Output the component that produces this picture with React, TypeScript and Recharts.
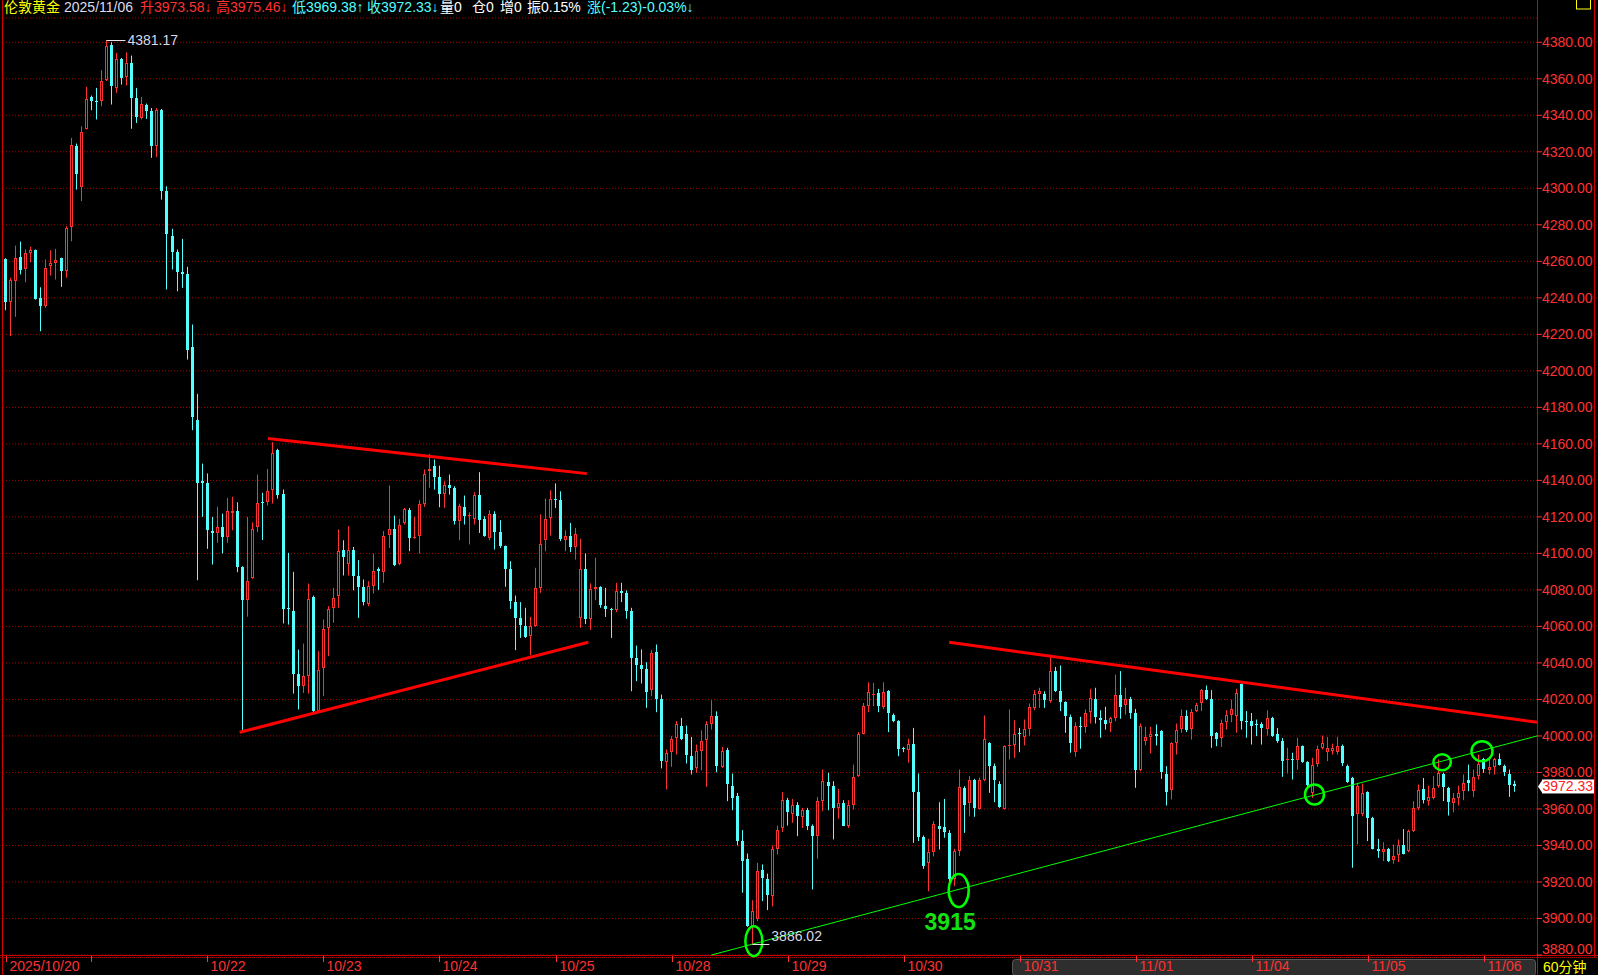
import React from 'react';
import {
  ComposedChart,
  Bar,
  XAxis,
  YAxis,
  CartesianGrid,
  ReferenceLine,
  ReferenceDot,
} from 'recharts';

// 60-minute London gold candles
const opens = [
  4261.4, 4237.6, 4249.1, 4262.4, 4255.9, 4264.7, 4266.1, 4239.8, 4235.4, 4257.4,
  4259.2, 4261.7, 4254.6, 4278.9, 4323.4, 4300.8, 4332.6, 4349.9, 4347.7, 4347.7,
  4359.6, 4378.7, 4355, 4370.9, 4361, 4368.7, 4349.5, 4338.6, 4345.9, 4342.2,
  4323.1, 4343.1, 4298.4, 4273.8, 4265, 4254, 4252.8, 4213.1, 4173.3, 4139.4,
  4138.3, 4112.5, 4111.3, 4114.5, 4109, 4122.2, 4123.5, 4092.5, 4074.4, 4086.6,
  4114.6, 4128, 4128, 4134.6, 4156.5, 4132.8, 4070, 4068.7, 4034.2, 4027.6,
  4032.7, 4076.2, 4013.6, 4037.3, 4059.2, 4070.2, 4076.6, 4102.1, 4094, 4102.1,
  4087.5, 4081.5, 4072.4, 4082, 4091.2, 4089.7, 4110.3, 4113.4, 4094.4, 4116.4,
  4124, 4108.5, 4109.4, 4126.8, 4145, 4147.8, 4141.7, 4132.8, 4137.2, 4135.9,
  4117.6, 4125.5, 4120.7, 4118.6, 4132.2, 4118.6, 4108.5, 4121.8, 4111.6, 4104,
  4091.7, 4073.3, 4064.7, 4060.5, 4054.7, 4060.5, 4081.1, 4107.2, 4119.5, 4129.9,
  4129.1, 4107.2, 4109.8, 4103.6, 4064.7, 4091.2, 4064.2, 4080.6, 4081.5, 4071.1,
  4069.3, 4068.9, 4079.3, 4078.4, 4068.4, 4042.8, 4039.1, 4036.8, 4025.1, 4045.9,
  4020.3, 3985.6, 3991.1, 3999, 4005.7, 4000.8, 3988.9, 3982.5, 3991.6, 3997.7,
  4006.3, 4011.2, 3983.1, 3992.2, 3972.8, 3967, 3942.4, 3932.7, 3896.1, 3899.5,
  3926.5, 3921.7, 3912.2, 3938.2, 3949.6, 3964.8, 3957, 3961.9, 3955.7, 3959.3,
  3950.9, 3945.1, 3964.3, 3974.7, 3972.8, 3960.6, 3963, 3950.9, 3961.9, 3978,
  4001.3, 4016.3, 4023, 4023.6, 4015.9, 4024.5, 4011.7, 4008.1, 3993.5, 3992.2,
  3995.8, 3969.2, 3944.7, 3930.5, 3936.4, 3950.9, 3950.2, 3946.9, 3921.4, 3936.9,
  3971.6, 3963.4, 3975.8, 3960.1, 3975.8, 3996.2, 3983.8, 3973.9, 3960.1, 3994.4,
  3995.3, 4001.7, 3999.5, 4003.9, 4015.4, 4023.2, 4023.2, 4019.1, 4035.5, 4024.5,
  4018.5, 4010.5, 3991.1, 4005.3, 4005, 4013, 4020.3, 4009.9, 4008.6, 4007.2,
  4009.9, 4022.7, 4016.7, 4020.3, 4012.3, 3981.3, 3997.1, 3999.5, 4000.8, 4002.6,
  3979.4, 3970.3, 3995.9, 4004, 4010.8, 4003.9, 4013.6, 4017.8, 4025.1, 4020,
  4001.7, 3999, 4007.5, 4011.7, 4010.8, 4028.2, 4008.1, 4008.1, 4006.8, 4006.8,
  4003.9, 4009.9, 4001.3, 3997.1, 3986.6, 3987.1, 3986.7, 3994.4, 3985.6, 3968.8,
  3984.9, 3993.5, 3991.1, 3991.7, 3991.1, 3994.4, 3983.8, 3977, 3957, 3957,
  3969.2, 3955.1, 3938.2, 3936.3, 3938.2, 3932.3, 3935, 3940.2, 3936.9, 3947.8,
  3960.6, 3970.7, 3964.3, 3966.1, 3972.5, 3979.4, 3971.6, 3963.4, 3966.1, 3969.7,
  3975.8, 3969.7, 3978.3, 3987.1, 3981.6, 3983.1, 3987.5, 3983.8, 3978.9, 3973.58,
];

const highs = [
  4261.7, 4251, 4268.6, 4270.8, 4266.5, 4268, 4266.5, 4245.8, 4261, 4266.1,
  4266.8, 4262, 4279.2, 4327.6, 4324.5, 4334, 4355.6, 4350.8, 4355, 4364.7,
  4381.17, 4380, 4374.2, 4371.4, 4374.5, 4372.7, 4355, 4350.1, 4346.4, 4344,
  4344, 4343.5, 4301.1, 4277.8, 4266.5, 4272.3, 4257, 4225.4, 4187.4, 4149.2,
  4143.8, 4120, 4125.5, 4121.8, 4130.4, 4131, 4128, 4093, 4120, 4117,
  4143.2, 4133.2, 4146.3, 4160.9, 4157.3, 4135, 4100.3, 4089.9, 4047.3, 4050.6,
  4083.5, 4076.9, 4046.4, 4063.8, 4071.1, 4081.1, 4113.1, 4107.2, 4114.9, 4103.6,
  4096.3, 4085.7, 4084.8, 4099.9, 4092.4, 4112.2, 4137.2, 4120.7, 4118.9, 4124.9,
  4124.9, 4120, 4129.1, 4146, 4154.5, 4151.4, 4148.1, 4139.5, 4143.2, 4136.8,
  4127.3, 4131.7, 4122.6, 4133.5, 4144.5, 4120.4, 4123.7, 4123.1, 4118.2, 4104.3,
  4095.7, 4076.9, 4073.3, 4070.2, 4065.2, 4092.1, 4121.3, 4130, 4134.6, 4138.3,
  4134, 4112.7, 4116.7, 4114, 4108, 4100, 4083.6, 4097.6, 4082, 4081.1,
  4070.2, 4083.9, 4083.9, 4079.8, 4070.2, 4049.5, 4047.4, 4040.4, 4047, 4050.1,
  4022.7, 3992.6, 3999.9, 4008.1, 4009.9, 4005.7, 3999.5, 3995.3, 4003.1, 4008.1,
  4019.6, 4013.5, 3994, 3993.5, 3979.4, 3968.8, 3948.4, 3935.6, 3910, 3930.5,
  3929.6, 3924.6, 3940, 3950.9, 3969.2, 3966.1, 3965.5, 3963.7, 3960.6, 3960.6,
  3951.5, 3966.6, 3981.6, 3979.8, 3975.2, 3971, 3964.8, 3964.8, 3984.3, 4002.1,
  4018.1, 4029.4, 4029, 4025.8, 4029.4, 4025.1, 4012.3, 4008.6, 3994, 3998.4,
  4004.4, 3979.4, 3945.5, 3943.6, 3953.3, 3963.7, 3965.5, 3948.4, 3938.2, 3981.6,
  3972.5, 3978, 3976.5, 3977.1, 4011.2, 3996.6, 3984.9, 3975.2, 3994.8, 4014.5,
  4008.6, 4004.4, 4009, 4017.8, 4025.1, 4026.4, 4024.5, 4044.6, 4037.8, 4038.6,
  4019, 4011.7, 4007.5, 4010.5, 4014.5, 4025.8, 4026.4, 4014.1, 4016, 4010.5,
  4033.6, 4035.5, 4026.4, 4021.4, 4014.8, 4006.8, 4005, 4005, 4006.3, 4003.2,
  3983.4, 3996.6, 4006.8, 4014.5, 4014.1, 4014.8, 4018.1, 4025.8, 4027.6, 4025.1,
  4002.1, 4009, 4014.1, 4019.9, 4025.8, 4028.7, 4013.6, 4012.6, 4009, 4007.5,
  4014.1, 4010.5, 4004.4, 3998.9, 3993.5, 3990.8, 3999, 3994.8, 3986.2, 3988,
  3994.8, 4000.2, 3999.5, 3995.8, 3999.5, 3995.3, 3984.3, 3977.6, 3974.3, 3973.9,
  3969.7, 3955.7, 3943.6, 3941.8, 3938.7, 3940.5, 3943.3, 3949, 3948.7, 3964.3,
  3973.4, 3977, 3972.8, 3978, 3987.1, 3979.8, 3972.1, 3968.8, 3972.8, 3978.9,
  3984.3, 3981.6, 3989.8, 3988, 3987.5, 3988, 3990.4, 3984.3, 3981.6, 3975.46,
];

const lows = [
  4233.2, 4219, 4229.6, 4252.8, 4248.6, 4259.5, 4239, 4221.7, 4234.5, 4252.2,
  4250, 4246, 4251, 4271, 4299.3, 4293, 4332.2, 4342.8, 4337.7, 4345,
  4358.7, 4345.9, 4352.3, 4356.8, 4356.3, 4332.6, 4335.8, 4337.7, 4338, 4316.7,
  4317.2, 4293.8, 4244.6, 4255.5, 4243.6, 4245.5, 4206.2, 4167.5, 4085.3, 4120,
  4102.5, 4093.9, 4105.8, 4099.9, 4105.8, 4112.7, 4089.7, 4002, 4065.3, 4086,
  4111.6, 4107.3, 4126.2, 4127.3, 4130, 4061.6, 4061, 4023.2, 4014.5, 4023.6,
  4023.2, 4012.7, 4012.7, 4021.8, 4043.7, 4062, 4070.2, 4087.9, 4087.9, 4079.8,
  4064.7, 4071.5, 4071.1, 4078, 4079.9, 4083.9, 4103, 4093, 4093.5, 4115.8,
  4101.2, 4108, 4099.9, 4125.5, 4135.9, 4135, 4125.3, 4125, 4132.2, 4115.8,
  4107.2, 4115.8, 4104.9, 4115.8, 4111.2, 4109.1, 4107.2, 4102.1, 4103, 4081.7,
  4069.6, 4047, 4053.7, 4053.7, 4044.1, 4059.8, 4078.4, 4101.2, 4109.8, 4124.9,
  4106.7, 4101.2, 4100.7, 4096.6, 4059.2, 4061.3, 4058.2, 4074.4, 4070.2, 4065.2,
  4053.7, 4067.8, 4073.3, 4064.2, 4024.5, 4030, 4028.7, 4015.4, 4021.8, 4013,
  3982.2, 3970.7, 3983.1, 3989.8, 3997.7, 3984.9, 3978.9, 3979.8, 3981.2, 3972.1,
  4003.5, 3980.1, 3982.5, 3964.3, 3959.3, 3940, 3914.1, 3895.4, 3886.02, 3898.5,
  3909.5, 3904.6, 3906.7, 3935.1, 3947.3, 3950.9, 3952.4, 3945.1, 3949.6, 3948.4,
  3915.9, 3932.7, 3958.8, 3959.3, 3943.3, 3954.6, 3950.6, 3949.6, 3959.7, 3977.6,
  4000.8, 4013, 4016.3, 4013, 4014.8, 4002.1, 4007.5, 3988.9, 3991.1, 3985.3,
  3941.4, 3942.4, 3927.2, 3914.9, 3934, 3937.8, 3944.2, 3919.5, 3917.7, 3934.2,
  3946.9, 3956, 3955.7, 3959.7, 3975.2, 3968.8, 3963.7, 3960.6, 3959.7, 3987.1,
  3988, 3991.1, 3994.8, 4000, 4014.1, 4015.4, 4015.4, 4018.1, 4024, 4013.6,
  4001.7, 3990.8, 3988.6, 3993, 4001.7, 4006.8, 4006.8, 3999, 4003.5, 4002.1,
  4008.1, 4009.4, 4011.7, 4009.4, 3971.6, 3980.7, 3994.8, 3990.4, 3994.8, 3976.5,
  3961.9, 3965.2, 3989.8, 4001.7, 4002.1, 3998, 4013, 4013.6, 4019.6, 3993.5,
  3994.4, 3994, 4003.5, 4007.5, 4001.7, 4003.5, 3999, 3995.3, 3999.9, 3995.3,
  4000.2, 3999.5, 3996.2, 3977.6, 3979.4, 3976.1, 3981.6, 3985.3, 3971, 3966.1,
  3983.1, 3992.6, 3986.2, 3989.8, 3989.8, 3983.5, 3974.3, 3927.8, 3940.5, 3956,
  3942.4, 3937.8, 3933.2, 3931.4, 3930.9, 3930.1, 3930.9, 3935.1, 3936.3, 3947.3,
  3959.3, 3963, 3961.9, 3965.2, 3971.6, 3964.3, 3956.4, 3958.2, 3961.9, 3964.8,
  3969.7, 3966.6, 3976.1, 3979.8, 3978.9, 3978.9, 3983.8, 3978, 3966.6, 3969.38,
];

const closes = [
  4237.6, 4249.6, 4261.9, 4255.5, 4264.3, 4266.1, 4239.4, 4235.8, 4256.4, 4258.9,
  4261, 4254.6, 4278.3, 4324, 4308.1, 4330.7, 4349, 4347.7, 4347.3, 4359,
  4378.2, 4355.9, 4370.9, 4360.5, 4368.7, 4349.5, 4339.1, 4346.4, 4342.2, 4323.1,
  4342.8, 4298.4, 4274.7, 4265, 4254, 4252.8, 4211.3, 4174.8, 4138.6, 4138.5,
  4112.7, 4111.3, 4114.5, 4109, 4123.5, 4123.5, 4092.5, 4074.4, 4084.8, 4113.4,
  4127.7, 4127.5, 4134.4, 4155, 4132.2, 4069.6, 4069.3, 4034.2, 4027.3, 4032.7,
  4075.1, 4013.6, 4036.4, 4058.7, 4069.6, 4075.7, 4101.2, 4098.1, 4102.1, 4087.5,
  4081.7, 4073.3, 4082.4, 4090.6, 4090.3, 4109.8, 4113.1, 4093.9, 4115.6, 4124.4,
  4108.5, 4109, 4126.8, 4143.7, 4146.3, 4141.9, 4132.8, 4137.2, 4135.9, 4117.6,
  4126.2, 4120.7, 4121.3, 4132.2, 4118.2, 4109.8, 4121.8, 4111.6, 4104, 4091.7,
  4073.8, 4064.7, 4060.7, 4054.3, 4060.1, 4081.1, 4104.9, 4118.9, 4129.9, 4129.1,
  4108, 4109.8, 4103.6, 4110.9, 4091.2, 4063.8, 4080.6, 4081.5, 4071.5, 4069.6,
  4068.9, 4079.3, 4078.4, 4068.4, 4042.8, 4039.1, 4036.8, 4024, 4045.2, 4020.3,
  3986.2, 3990.8, 3998.4, 4006.3, 3998.1, 3989.3, 3981.3, 3991.7, 3997.1, 4006.3,
  4010.8, 3983.8, 3991.6, 3973.9, 3966.1, 3942.4, 3931.4, 3896.1, 3904, 3925.9,
  3922.3, 3912.6, 3937.8, 3948.7, 3964.8, 3958.2, 3961.9, 3956, 3959.3, 3950.9,
  3945.4, 3964.3, 3975.2, 3972.8, 3960.6, 3963, 3950.9, 3961.9, 3977.6, 4000.8,
  4016.3, 4024, 4023.2, 4016.3, 4024, 4012.3, 4008.1, 3992.9, 3992.6, 3995.8,
  3969.2, 3944.7, 3928.7, 3936.5, 3951.5, 3949.1, 3947.3, 3921.4, 3936.9, 3972.1,
  3961.9, 3975.8, 3960.6, 3975.8, 3998.4, 3983.8, 3975.8, 3961.2, 3994.4, 3995.3,
  4000.8, 4001.1, 4003.9, 4016, 4023.2, 4024.5, 4019.6, 4035.5, 4024.5, 4018.5,
  4010.8, 3995.9, 4005.7, 4004.8, 4012.3, 4020.9, 4010.5, 4008.6, 4006.8, 4009.9,
  4022.7, 4016, 4020.3, 4012.3, 3981.6, 4005.7, 3999.5, 4000.8, 4000.2, 3980.2,
  3969.2, 3995.9, 4003.5, 4010.8, 4003.5, 4013, 4017.2, 4025.1, 4020, 4000.2,
  3998.4, 4007.2, 4011.7, 4014.8, 4023.6, 4008.1, 4007.5, 4005.7, 4006.3, 4004.1,
  4009.9, 4000.2, 3997.1, 3986.2, 3987.1, 3986.6, 3994.4, 3985.6, 3973.4, 3984.3,
  3992.9, 3995.9, 3993.5, 3993.5, 3994.4, 3985.3, 3974.7, 3956, 3972.5, 3968.5,
  3955.1, 3938.2, 3936.9, 3937.8, 3931.4, 3934.2, 3940, 3935.6, 3947.8, 3960.6,
  3970.3, 3964.8, 3966.6, 3971.6, 3979.8, 3972.1, 3963.7, 3966.1, 3968.8, 3974.3,
  3974.3, 3977.6, 3984.9, 3982, 3983.1, 3987.1, 3984.3, 3980.2, 3973.4, 3972.33,
];

// candle index where each trading day starts, and its label
const dayTicks = [0, 17, 40, 63, 86, 109, 132, 155, 178, 201, 224, 247, 270, 293];
const dayLabels = ['2025/10/20', '', '10/22', '10/23', '10/24', '10/25', '10/28', '10/29', '10/30', '10/31', '11/01', '11/04', '11/05', '11/06'];

const priceTicks = [
  3880, 3900, 3920, 3940, 3960, 3980, 4000, 4020, 4040, 4060, 4080, 4100, 4120,
  4140, 4160, 4180, 4200, 4220, 4240, 4260, 4280, 4300, 4320, 4340, 4360, 4380,
];

// hand-drawn annotations, in (candle index, price)
const upperLeft = [{ x: 52, y: 4162.9 }, { x: 115.2, y: 4143.7 }];
const lowerLeft = [{ x: 46.4, y: 4002 }, { x: 115.5, y: 4051.3 }];
const upperRight = [{ x: 187, y: 4051.3 }, { x: 303.5, y: 4007.5 }];
const greenTrend = [{ x: 139.9, y: 3880 }, { x: 303.5, y: 4000 }];
const circles = [
  { x: 148.3, y: 3887.6, rx: 8.5, ry: 15 },
  { x: 188.9, y: 3915.3, rx: 10, ry: 16.5 },
  { x: 259.4, y: 3967.9, rx: 9.5, ry: 10 },
  { x: 284.7, y: 3985.6, rx: 8.7, ry: 8 },
  { x: 292.6, y: 3991.6, rx: 10.5, ry: 10 },
];

const lastClose = 3972.33;
const maxPoint = { x: 20, y: 4381.17 };
const minPoint = { x: 148, y: 3886.02 };

const UP = '#ff3232';
const DOWN = '#54ffff';
const AXIS = '#d00000';
const FONT = "'Liberation Sans', Arial, 'Noto Sans CJK SC', sans-serif";

const data = opens.map((o, i) => ({
  i,
  o,
  h: highs[i],
  l: lows[i],
  c: closes[i],
  range: [lows[i], highs[i]],
}));

const header = [
  { t: '伦敦黄金', x: 4, c: '#ffff00' },
  { t: '2025/11/06', x: 64, c: '#dcdcf0' },
  { t: '升3973.58↓', x: 140, c: UP },
  { t: '高3975.46↓', x: 216, c: UP },
  { t: '低3969.38↑', x: 292, c: DOWN },
  { t: '收3972.33↓', x: 367, c: DOWN },
  { t: '量0', x: 440, c: '#ffffff' },
  { t: '仓0', x: 472, c: '#ffffff' },
  { t: '增0', x: 500, c: '#ffffff' },
  { t: '振0.15%', x: 527, c: '#ffffff' },
  { t: '涨(-1.23)-0.03%↓', x: 587, c: DOWN },
];

const Candle = (props: any) => {
  const { x, y, width, height } = props;
  const d = props.payload ?? props;
  const { o, h, l, c } = d;
  if (x == null || y == null || h == null) return null;
  const top = Math.min(y, y + height);
  const span = Math.abs(height);
  const k = h > l ? span / (h - l) : 0;
  const py = (v: number) => top + (h - v) * k;
  const cx = Math.floor(x + width / 2);
  const wx = cx + 0.5;
  const up = c >= o;
  const col = up ? UP : DOWN;
  const yH = py(h);
  const yL = py(l);
  const bT = Math.round(py(Math.max(o, c)));
  let bB = Math.round(py(Math.min(o, c)));
  if (bB - bT < 1) bB = bT + 1;

  if (!up || bB - bT <= 2) {
    return (
      <g>
        <line x1={wx} x2={wx} y1={yH} y2={yL} stroke={col} strokeWidth={1} />
        <rect x={cx - 1} y={bT} width={3} height={bB - bT} fill={col} />
      </g>
    );
  }
  return (
    <g>
      <line x1={wx} x2={wx} y1={yH} y2={bT} stroke={col} strokeWidth={1} />
      <line x1={wx} x2={wx} y1={bB} y2={yL} stroke={col} strokeWidth={1} />
      <rect x={cx - 0.5} y={bT + 0.5} width={2} height={bB - bT - 1} fill="#000" stroke={col} strokeWidth={1} />
    </g>
  );
};

const PriceTick = (props: any) => {
  const { x, y, payload } = props;
  const v = payload.value as number;
  const yy = v === priceTicks[0] ? y - 6 : y;
  return (
    <text x={x} y={yy + 5} fill={UP} fontSize={14} fontFamily={FONT}>
      {v.toFixed(2)}
    </text>
  );
};

const DateTick = (props: any) => {
  const { x, y, payload } = props;
  const k = dayTicks.indexOf(payload.value);
  const label = k >= 0 ? dayLabels[k] : '';
  const px = Math.round(x) + 0.5;
  return (
    <g>
      <line x1={px} x2={px} y1={y + 1} y2={y + 7} stroke={UP} strokeWidth={1} />
      {label && (
        <text x={px + 3} y={y + 16} fill={UP} fontSize={14} fontFamily={FONT}>
          {label}
        </text>
      )}
    </g>
  );
};

const App: React.FC = () => {
  return (
    <div style={{ position: 'fixed', left: 0, top: 0, width: 1598, height: 975, background: '#000', overflow: 'hidden' }}>
      {/* frame: borders, scroll bar, period box, quote line */}
      <svg width={1598} height={975} style={{ position: 'absolute', left: 0, top: 0 }}>
        <rect x={1012.5} y={959.5} width={523} height={16} rx={3} fill="#2e2e2e" stroke="#5a5a5a" />
        <line x1={2.5} x2={2.5} y1={0} y2={975} stroke={AXIS} />
        <line x1={1537.5} x2={1537.5} y1={0} y2={975} stroke={AXIS} />
        <line x1={1594.5} x2={1594.5} y1={0} y2={957} stroke={AXIS} />
        <line x1={0} x2={1598} y1={955.5} y2={955.5} stroke={AXIS} />
        <line x1={0} x2={1598} y1={957.5} y2={957.5} stroke="#a00000" strokeDasharray="1 1" />
        <rect x={1576.5} y={-1} width={14} height={10} fill="none" stroke="#ffff00" />
        <text x={1543} y={972} fill="#ffff00" fontSize={14} fontFamily={FONT}>60分钟</text>
        {header.map((s) => (
          <text key={s.t} x={s.x} y={12} fill={s.c} fontSize={14} fontFamily={FONT}>
            {s.t}
          </text>
        ))}
      </svg>
      <div style={{ position: 'absolute', left: 0, top: 0 }}>
        <ComposedChart width={1598} height={975} data={data} margin={{ top: 18, right: 0, bottom: 0, left: 3 }}>
          <CartesianGrid vertical={false} stroke="#a80000" strokeDasharray="1 2" />
          <XAxis
            dataKey="i"
            type="number"
            domain={[-0.5, 303.5]}
            allowDataOverflow
            ticks={dayTicks}
            interval={0}
            height={20}
            axisLine={false}
            tickLine={false}
            tickSize={0}
            tickMargin={0}
            tick={<DateTick />}
          />
          <YAxis
            orientation="right"
            type="number"
            width={61}
            domain={[3880, 4393.3]}
            allowDataOverflow
            ticks={priceTicks}
            interval={0}
            axisLine={false}
            tickLine={{ stroke: UP }}
            tickSize={5}
            tickMargin={0}
            tick={<PriceTick />}
          />
          <Bar dataKey="range" barSize={3} isAnimationActive={false} shape={(p: any) => <Candle {...p} />} />

          <ReferenceLine segment={upperLeft} stroke="#ff0000" strokeWidth={3} ifOverflow="visible" />
          <ReferenceLine segment={lowerLeft} stroke="#ff0000" strokeWidth={3} ifOverflow="visible" />
          <ReferenceLine segment={upperRight} stroke="#ff0000" strokeWidth={3} ifOverflow="visible" />
          <ReferenceLine segment={greenTrend} stroke="#00ff00" strokeWidth={1} ifOverflow="visible" />

          {circles.map((e, k) => (
            <ReferenceDot
              key={`c${k}`}
              x={e.x}
              y={e.y}
              r={1}
              ifOverflow="visible"
              shape={(p: any) => (
                <ellipse cx={p.cx} cy={p.cy} rx={e.rx} ry={e.ry} fill="none" stroke="#00ff00" strokeWidth={2.5} />
              )}
            />
          ))}

          <ReferenceDot
            x={187.2}
            y={3898.1}
            r={1}
            ifOverflow="visible"
            shape={(p: any) => (
              <text x={p.cx} y={p.cy + 8} textAnchor="middle" fill="#14e014" fontSize={23} fontWeight="bold" fontFamily={FONT}>
                3915
              </text>
            )}
          />
          <ReferenceDot
            x={maxPoint.x}
            y={maxPoint.y}
            r={1}
            ifOverflow="visible"
            shape={(p: any) => (
              <g>
                <line x1={p.cx} x2={p.cx + 19} y1={Math.round(p.cy) + 0.5} y2={Math.round(p.cy) + 0.5} stroke="#e6e6e6" />
                <text x={p.cx + 21} y={p.cy + 5} fill="#d8d8e8" fontSize={14} fontFamily={FONT}>
                  {maxPoint.y.toFixed(2)}
                </text>
              </g>
            )}
          />
          <ReferenceDot
            x={minPoint.x}
            y={minPoint.y}
            r={1}
            ifOverflow="visible"
            shape={(p: any) => (
              <g>
                <line x1={p.cx} x2={p.cx + 17} y1={Math.round(p.cy) + 0.5} y2={Math.round(p.cy) + 0.5} stroke="#e6e6e6" />
                <text x={p.cx + 19} y={p.cy - 3} fill="#d8d8e8" fontSize={14} fontFamily={FONT}>
                  {minPoint.y.toFixed(2)}
                </text>
              </g>
            )}
          />
          <ReferenceDot
            x={303.5}
            y={lastClose}
            r={1}
            ifOverflow="visible"
            shape={(p: any) => (
              <g>
                <polygon points={`${p.cx + 1},${p.cy} ${p.cx + 5},${p.cy - 6} ${p.cx + 5},${p.cy + 6}`} fill="#ffffff" />
                <rect x={p.cx + 5} y={p.cy - 7} width={52} height={14} fill="#ffffff" />
                <text x={p.cx + 5.5} y={p.cy + 5} fill="#ff2020" fontSize={14} fontFamily={FONT}>
                  {lastClose.toFixed(2)}
                </text>
              </g>
            )}
          />
        </ComposedChart>
      </div>
    </div>
  );
};

export default App;
